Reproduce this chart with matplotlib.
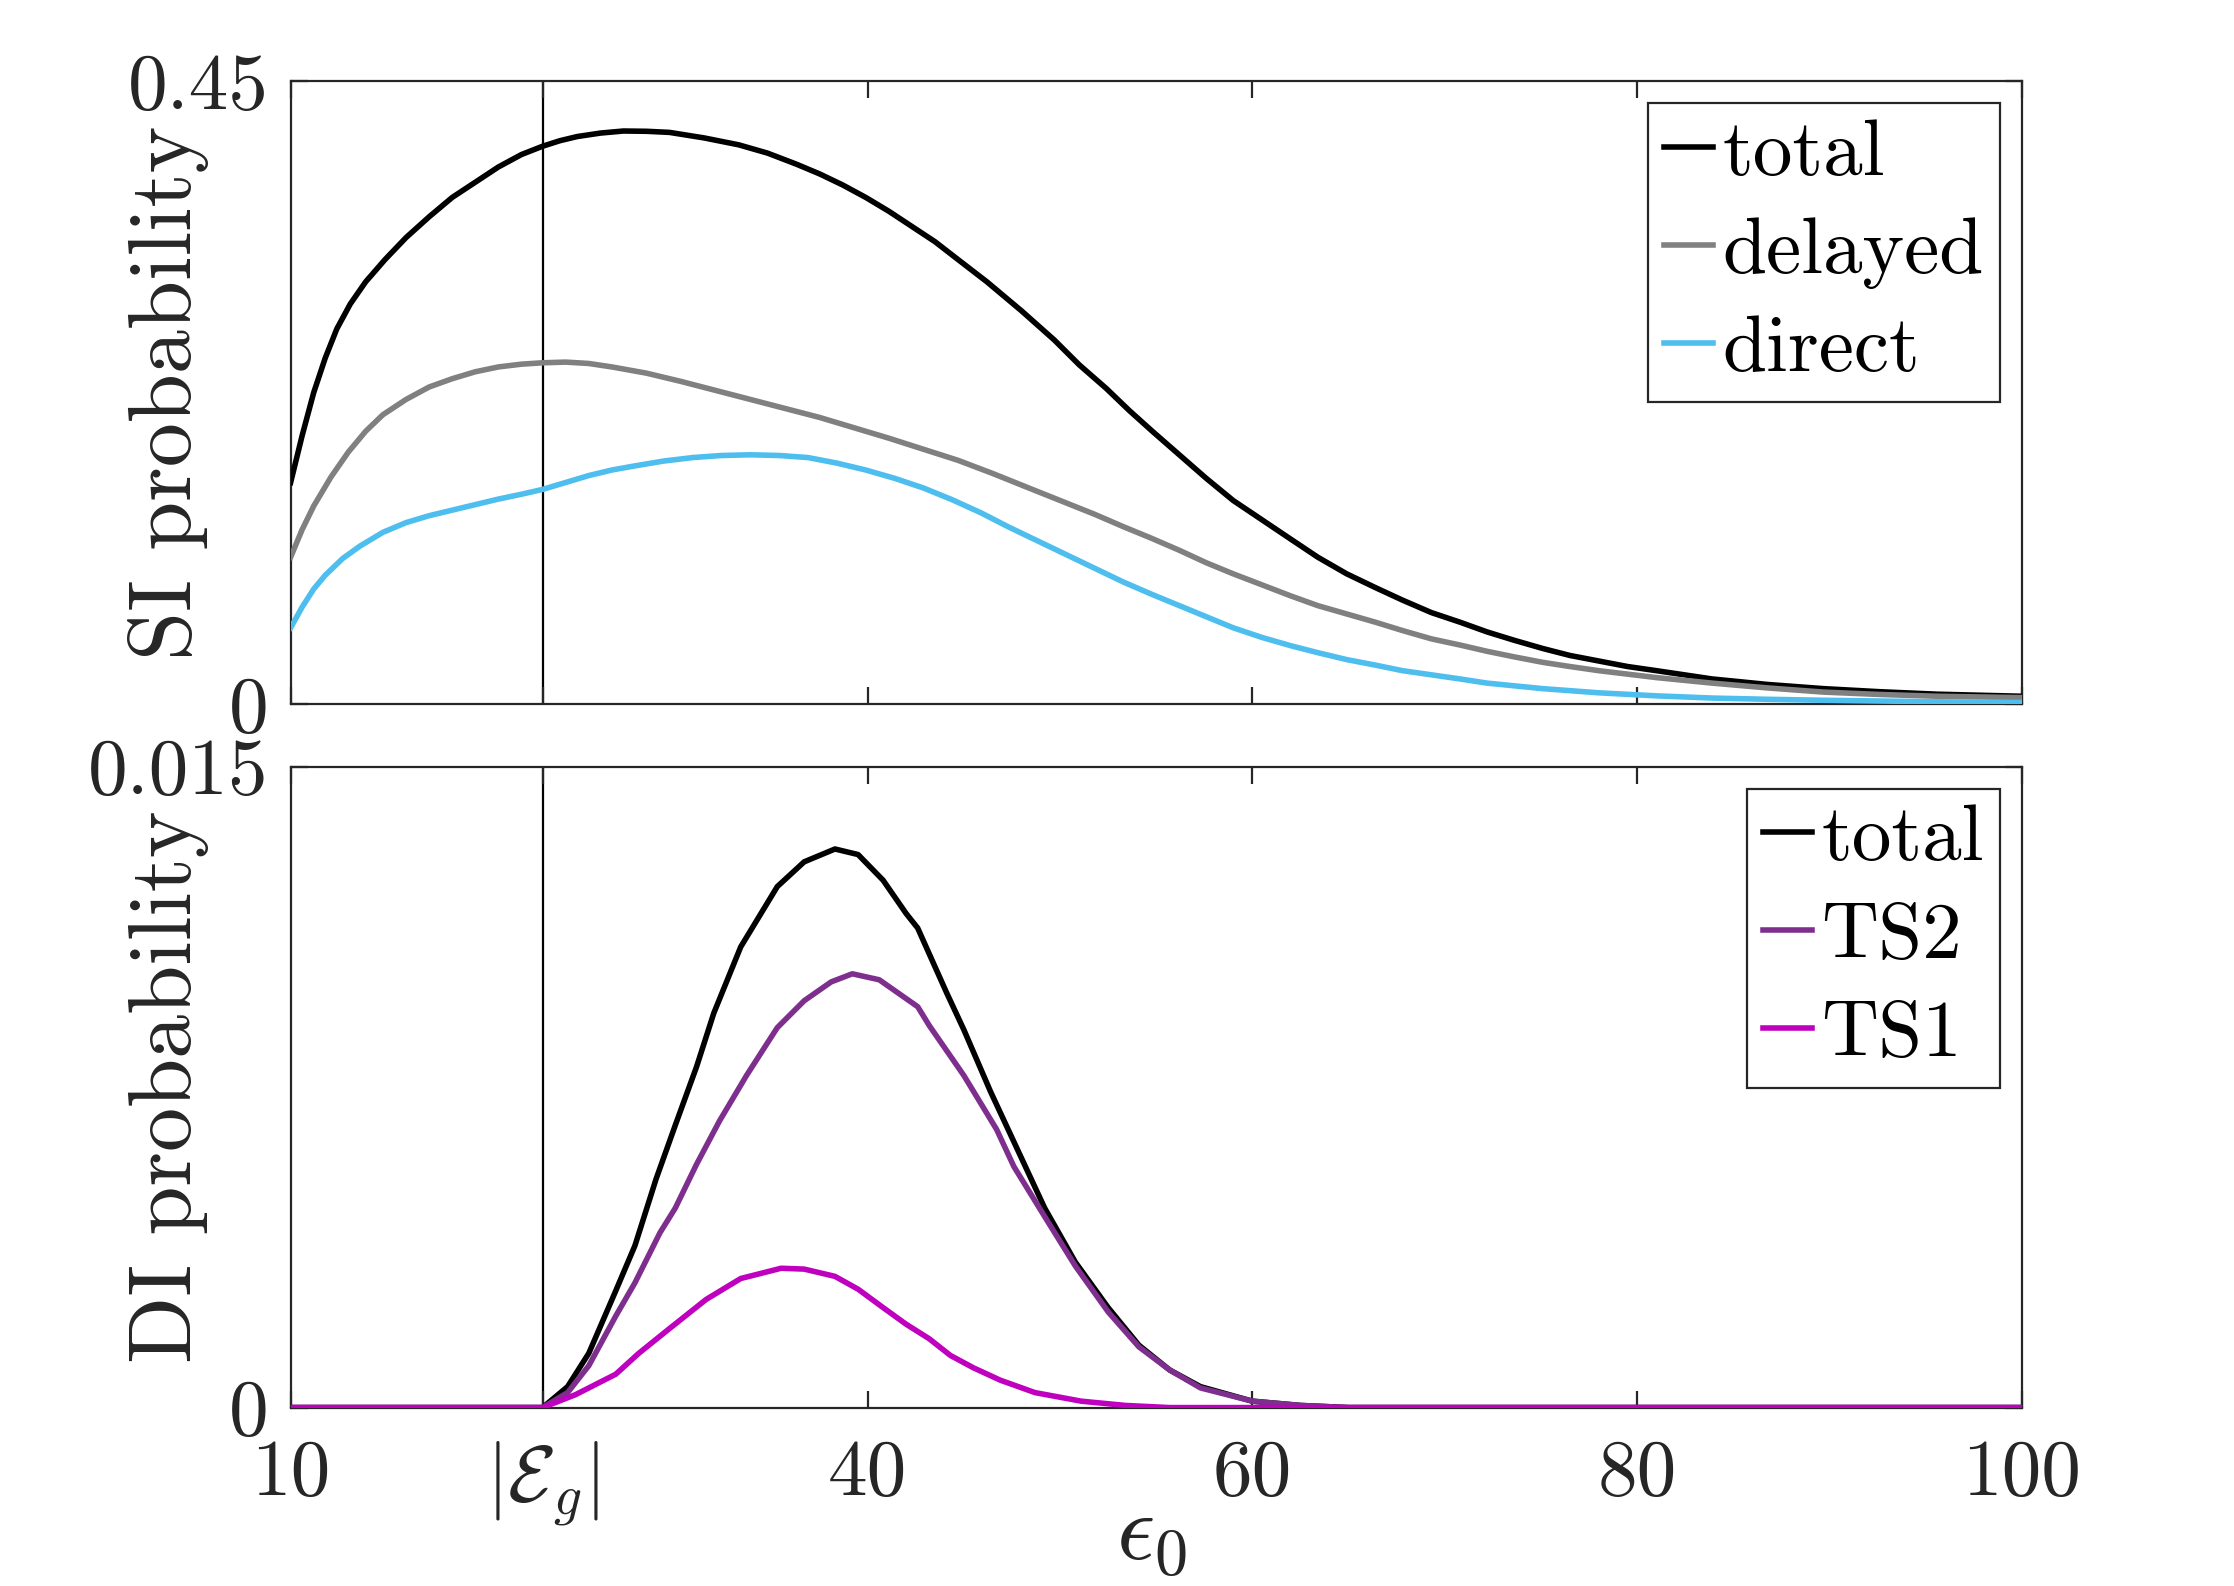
import numpy as np
import matplotlib
matplotlib.use("Agg")
import matplotlib.pyplot as plt

plt.rcParams["font.family"] = "serif"
plt.rcParams["font.serif"] = ["cmr10"]
plt.rcParams["mathtext.fontset"] = "cm"
plt.rcParams["axes.unicode_minus"] = False
plt.rcParams["axes.formatter.use_mathtext"] = True

# |E_g| position on the x axis
eg = 23.1

# --- SI probability (top panel) ---
si_total_x = [10, 10.6, 11.2, 11.8, 12.4, 13.1, 13.9, 14.9, 16.0, 17.2, 18.4, 19.6, 20.8, 22.0,
              23.1, 24.0, 24.9, 26.1, 27.3, 28.5, 29.7, 31.5, 33.3, 34.8, 36.3, 37.5, 38.7,
              39.9, 41.1, 42.3, 43.5, 44.8, 46.2, 48.0, 49.7, 51.0, 52.4, 53.6, 54.8, 56.2,
              57.6, 59.0, 60.5, 62.0, 63.4, 64.9, 66.4, 67.8, 69.3, 70.8, 72.2, 73.6, 75.1,
              76.5, 78.0, 79.5, 81.0, 83.9, 86.8, 89.7, 92.6, 95.6, 100]
si_total_y = [0.160, 0.194, 0.225, 0.250, 0.271, 0.289, 0.305, 0.321, 0.337, 0.352, 0.366, 0.377,
              0.388, 0.397, 0.403, 0.407, 0.410, 0.4125, 0.414, 0.4138, 0.413, 0.409, 0.404,
              0.398, 0.390, 0.383, 0.375, 0.366, 0.356, 0.345, 0.334, 0.320, 0.305, 0.284,
              0.263, 0.245, 0.228, 0.212, 0.197, 0.180, 0.163, 0.147, 0.133, 0.119, 0.106,
              0.094, 0.084, 0.075, 0.066, 0.059, 0.052, 0.046, 0.040, 0.035, 0.031, 0.027,
              0.024, 0.018, 0.014, 0.011, 0.0088, 0.007, 0.0055]

si_delayed_x = [10, 10.6, 11.2, 12.1, 13.0, 13.9, 14.8, 16.0, 17.2, 18.4, 19.6, 20.8, 22.0, 23.1,
                24.3, 25.5, 26.7, 28.5, 30.3, 32.1, 33.9, 35.7, 37.5, 39.3, 41.1, 42.9, 44.7,
                46.5, 48.2, 50.0, 51.8, 53.3, 54.7, 56.2, 57.6, 59.0, 60.5, 62.0, 63.4, 64.9,
                66.4, 67.8, 69.3, 70.8, 72.2, 73.6, 75.1, 76.5, 78.0, 81.0, 83.9, 86.8, 89.7,
                92.6, 95.6, 100]
si_delayed_y = [0.106, 0.126, 0.143, 0.164, 0.182, 0.197, 0.209, 0.220, 0.229, 0.235, 0.240,
                0.2435, 0.2455, 0.2465, 0.247, 0.246, 0.2435, 0.239, 0.233, 0.2265, 0.220,
                0.2135, 0.207, 0.1995, 0.192, 0.184, 0.176, 0.1665, 0.157, 0.147, 0.137, 0.128,
                0.120, 0.111, 0.102, 0.094, 0.086, 0.078, 0.071, 0.065, 0.059, 0.053, 0.047,
                0.0425, 0.038, 0.034, 0.030, 0.027, 0.024, 0.019, 0.015, 0.0115, 0.0085, 0.0068,
                0.0055, 0.0045]

si_direct_x = [10, 10.6, 11.2, 11.8, 12.7, 13.6, 14.8, 16.0, 17.2, 18.4, 19.6, 20.8, 22.0, 23.1,
               24.3, 25.5, 26.7, 27.9, 29.4, 30.9, 32.4, 33.9, 35.4, 36.9, 38.4, 39.9, 41.4,
               42.9, 44.4, 45.9, 47.3, 48.8, 50.3, 51.8, 53.3, 54.8, 56.2, 57.6, 59.0, 60.5,
               62.0, 63.4, 64.9, 66.4, 67.8, 69.3, 70.8, 72.2, 75.1, 78.0, 81.0, 83.9, 86.8,
               89.7, 95.6, 100]
si_direct_y = [0.055, 0.070, 0.083, 0.093, 0.105, 0.114, 0.124, 0.131, 0.136, 0.140, 0.144, 0.148,
               0.1515, 0.155, 0.160, 0.165, 0.169, 0.172, 0.1755, 0.178, 0.1795, 0.180, 0.1795,
               0.178, 0.174, 0.169, 0.163, 0.156, 0.1475, 0.138, 0.128, 0.118, 0.108, 0.098,
               0.088, 0.079, 0.071, 0.063, 0.055, 0.048, 0.042, 0.037, 0.032, 0.028, 0.024,
               0.021, 0.018, 0.015, 0.011, 0.008, 0.0058, 0.0042, 0.0033, 0.0026, 0.0015, 0.001]

# --- DI probability (bottom panel) ---
di_total_x = [10, 23.1, 24.4, 25.5, 26.9, 27.9, 29.0, 30.0, 31.1, 32.0, 33.4, 35.3, 36.7, 38.3,
              39.5, 40.8, 42.0, 42.6, 44.1, 45.0, 46.4, 47.6, 49.2, 50.8, 52.5, 54.1, 55.7,
              57.3, 60.0, 62.5, 65, 100]
di_total_y = [0, 0, 0.00049, 0.00127, 0.00273, 0.00379, 0.00535, 0.00661, 0.00797, 0.00923,
              0.01078, 0.01219, 0.01277, 0.01307, 0.01294, 0.01234, 0.01156, 0.01122, 0.00971,
              0.00884, 0.00738, 0.00622, 0.00467, 0.00340, 0.00234, 0.00146, 0.00088, 0.00049,
              0.00015, 0.00005, 0, 0]

di_ts2_x = [10, 23.1, 24.4, 25.5, 26.9, 27.9, 29.2, 30.0, 31.1, 32.3, 33.7, 35.3, 36.7, 38.1,
            39.2, 40.6, 42.6, 43.2, 45.0, 46.7, 47.6, 49.2, 50.8, 52.5, 54.1, 55.7, 57.3, 60.0,
            62.5, 65, 100]
di_ts2_y = [0, 0, 0.00035, 0.00098, 0.00214, 0.00292, 0.00409, 0.00467, 0.00569, 0.00671,
            0.00777, 0.00889, 0.00952, 0.00996, 0.01015, 0.01001, 0.00938, 0.00894, 0.00777,
            0.00651, 0.00564, 0.00447, 0.00331, 0.00224, 0.00142, 0.00088, 0.00046, 0.00015,
            0.00005, 0, 0]

di_ts1_x = [10, 23.1, 24.8, 26.9, 28.1, 29.7, 31.6, 33.4, 35.5, 36.7, 38.3, 39.5, 40.8, 42.0,
            43.2, 44.3, 45.5, 46.9, 48.7, 51.1, 53.4, 55.7, 100]
di_ts1_y = [0, 0, 0.0003, 0.00078, 0.00127, 0.00185, 0.00253, 0.00302, 0.00326, 0.00324, 0.00307,
            0.00277, 0.00234, 0.00195, 0.00161, 0.00122, 0.00093, 0.00064, 0.00035, 0.00015,
            0.00005, 0, 0]

x_ticks = [10, eg, 40, 60, 80, 100]
x_tick_labels = ["10", r"$|\mathcal{E}_g|$", "40", "60", "80", "100"]

axis_color = "#262626"
lw = 2.0


def style_axes(ax, ymax, ylabels):
    ax.set_xlim(10, 100)
    ax.set_ylim(0, ymax)
    ax.set_xticks(x_ticks)
    ax.set_yticks([0, ymax])
    ax.set_yticklabels(ylabels)
    ax.tick_params(direction="in", top=True, right=True, length=6, width=0.8,
                   labelsize=28.5, colors=axis_color)
    ax.tick_params(axis="y", pad=8)
    ax.tick_params(axis="x", pad=11.5)
    for s in ax.spines.values():
        s.set_color(axis_color)
        s.set_linewidth(0.8)
    ax.axvline(eg, color="k", lw=0.8, zorder=1)


def make_legend(ax):
    leg = ax.legend(loc="upper right", fontsize=28.5, frameon=True, fancybox=False,
                    edgecolor=axis_color, framealpha=1, handlelength=0.62,
                    handletextpad=0.12, labelspacing=0.33, borderpad=0.2,
                    borderaxespad=0.28)
    leg.get_frame().set_linewidth(0.8)


fig = plt.figure(figsize=(11.17, 7.93), dpi=200)
ax1 = fig.add_axes([0.1301, 0.5562, 0.7749, 0.3926])
ax2 = fig.add_axes([0.1301, 0.1125, 0.7749, 0.4042])

ax1.plot(si_total_x, si_total_y, color="k", lw=lw, label="total", zorder=3)
ax1.plot(si_delayed_x, si_delayed_y, color="#808080", lw=lw, label="delayed", zorder=3)
ax1.plot(si_direct_x, si_direct_y, color="#4DBEEE", lw=lw, label="direct", zorder=3)
style_axes(ax1, 0.45, ["0", "0.45"])
ax1.set_xticklabels([])
ax1.set_ylabel("SI probability", fontsize=31.8, color=axis_color)
ax1.yaxis.set_label_coords(-0.047, 0.5)
make_legend(ax1)

ax2.plot(di_total_x, di_total_y, color="k", lw=lw, label="total", zorder=3)
ax2.plot(di_ts2_x, di_ts2_y, color="#7E2F8E", lw=lw, label="TS2", zorder=3)
ax2.plot(di_ts1_x, di_ts1_y, color="#BF00BF", lw=lw, label="TS1", zorder=3)
style_axes(ax2, 0.015, ["0", "0.015"])
ax2.set_xticklabels(x_tick_labels)
ax2.set_ylabel("DI probability", fontsize=31.8, color=axis_color)
ax2.yaxis.set_label_coords(-0.047, 0.5)
ax2.set_xlabel(r"$\epsilon_0$", fontsize=34, color=axis_color)
ax2.xaxis.set_label_coords(0.497, -0.137)
make_legend(ax2)

fig.savefig("out.png", dpi=200)
